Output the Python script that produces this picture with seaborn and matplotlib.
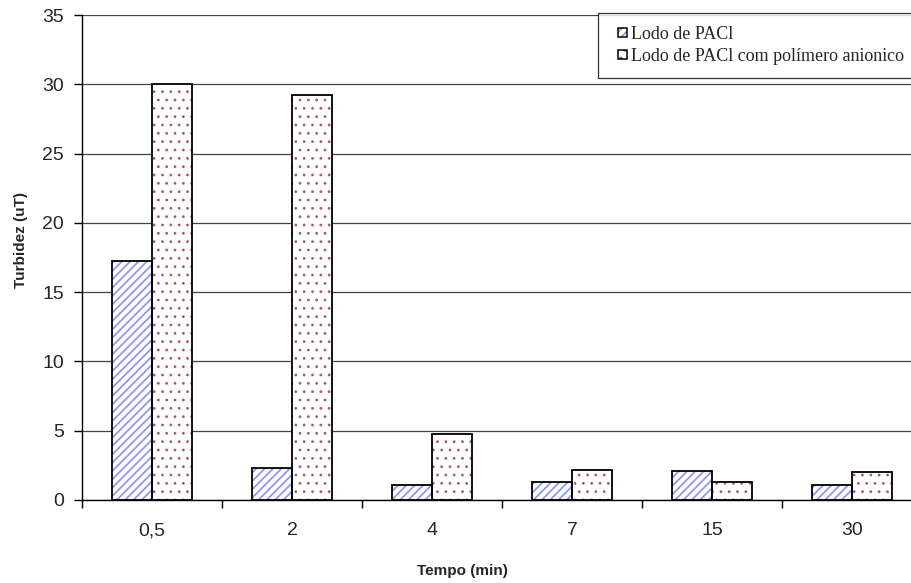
import matplotlib
matplotlib.use("Agg")
import matplotlib.pyplot as plt
import seaborn as sns
import pandas as pd
from matplotlib.patches import Rectangle
from matplotlib.legend_handler import HandlerPatch

categories = ["0,5", "2", "4", "7", "15", "30"]
series_names = ["Lodo de PACl", "Lodo de PACl com polímero anionico"]
pacl = [17.25, 2.33, 1.06, 1.3, 2.09, 1.1]
pacl_pol = [30.0, 29.2, 4.76, 2.2, 1.28, 2.0]
yticks = [0, 5, 10, 15, 20, 25, 30, 35]

df = pd.DataFrame({
    "Tempo": categories * 2,
    "Turbidez": pacl + pacl_pol,
    "Serie": [series_names[0]] * len(categories) + [series_names[1]] * len(categories),
})

sns.set_theme(style="white")
plt.rcParams["font.family"] = ["Liberation Sans", "DejaVu Sans"]
plt.rcParams["hatch.linewidth"] = 1.3

fig = plt.figure(figsize=(9.12, 5.83), dpi=100)
ax = fig.add_axes([82 / 912, 1 - 500 / 583, 840 / 912, 485 / 583])

hatch_colors = ["#8e98f2", "#b4527e"]
hatches = ["////", ".."]
hatch_lw = [1.3, 0.8]
sns.barplot(data=df, x="Tempo", y="Turbidez", hue="Serie", order=categories,
            hue_order=series_names, palette=["white", "white"], width=0.572,
            ax=ax, legend=False, saturation=1)

n = len(categories)
bars = list(ax.patches)
for i, p in enumerate(bars):
    s = i // n
    p.set_hatch(hatches[s])
    if hasattr(p, "set_hatch_linewidth"):
        p.set_hatch_linewidth(hatch_lw[s])
    p.set_edgecolor(hatch_colors[s])
    p.set_linewidth(0)
    p.set_facecolor("white")
    ax.add_patch(Rectangle(p.get_xy(), p.get_width(), p.get_height(),
                           fill=False, edgecolor="black", linewidth=1.3, zorder=3))

ax.set_ylim(0, 35)
ax.set_xlim(-0.5, n - 0.5)
ax.set_yticks(yticks)
ax.set_yticklabels([str(v) for v in yticks], fontsize=14)
ax.set_xticks(range(n))
ax.set_xticklabels(categories, fontsize=14)
ax.set_xticks([i - 0.5 for i in range(n + 1)], minor=True)
ax.tick_params(axis="x", which="major", length=0, pad=16)
ax.tick_params(axis="x", which="minor", length=6, width=1, color="black", direction="out", bottom=True)
ax.tick_params(axis="y", which="major", length=6, width=1, color="black", direction="out", left=True, pad=7)

ax.yaxis.grid(True, color="#444444", linewidth=0.9)
ax.set_axisbelow(True)
for side in ["top", "right"]:
    ax.spines[side].set_visible(False)
for side in ["left", "bottom"]:
    ax.spines[side].set_color("black")
    ax.spines[side].set_linewidth(1)

ax.set_xlabel("Tempo (min)", fontsize=11, fontweight="bold")
ax.set_ylabel("Turbidez (uT)", fontsize=11, fontweight="bold")
ax.xaxis.label.set_va("center")
ax.yaxis.label.set_va("center")
ax.xaxis.set_label_coords((462 - 82) / 840, (500 - 571) / 485)
ax.yaxis.set_label_coords((21 - 82) / 840, (500 - 240) / 485)


class SquareHandler(HandlerPatch):
    def create_artists(self, legend, orig_handle, xdescent, ydescent, width, height, fontsize, trans):
        s = 0.5 * fontsize
        x0 = -xdescent + width - s
        y0 = -ydescent + (height - s) / 2
        fill = Rectangle((x0, y0), s, s, facecolor="white", edgecolor=orig_handle.get_edgecolor(),
                         hatch=orig_handle.get_hatch(), linewidth=0, transform=trans)
        border = Rectangle((x0, y0), s, s, fill=False, edgecolor="black", linewidth=1.1, transform=trans)
        return [fill, border]


handles = []
for s in range(2):
    handles.append(Rectangle((0, 0), 1, 1, facecolor="white", edgecolor=hatch_colors[s],
                             hatch=hatches[s], linewidth=0))
x0 = 598 / 912
y1 = 1 - 13 / 583
leg = fig.legend(handles, series_names, loc="upper left",
                 bbox_to_anchor=(x0, y1 - 0.2, 930 / 912 - x0, 0.2), mode="expand",
                 prop={"family": "Liberation Serif", "size": 13},
                 frameon=True, fancybox=False, shadow=False,
                 handlelength=0.91, handleheight=0.7, handletextpad=0.22,
                 borderpad=0.7, labelspacing=0.3, borderaxespad=0,
                 handler_map={Rectangle: SquareHandler()})
leg.get_frame().set_edgecolor("black")
leg.get_frame().set_linewidth(0.9)

fig.savefig("out.png", dpi=100)
